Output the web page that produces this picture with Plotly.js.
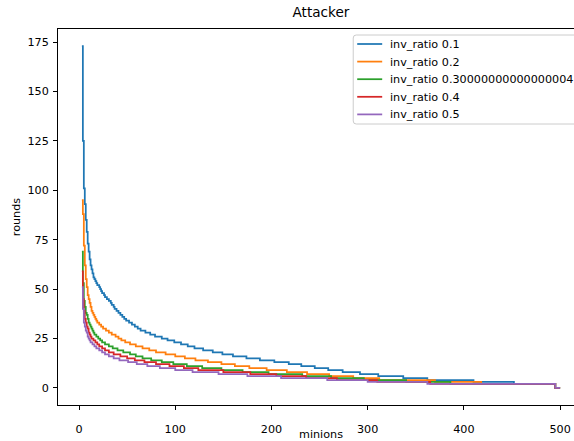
<!DOCTYPE html>
<html>
<head>
<meta charset="utf-8">
<script src="https://cdn.plot.ly/plotly-3.0.1.min.js"></script>
<style>
  html, body { margin: 0; padding: 0; overflow: hidden; background: #fff; }
  #chart { width: 700px; height: 441px; }
</style>
</head>
<body>
<div id="chart"></div>
<script>
// Average rounds needed by the attacker, per number of minions, for each inv_ratio.
// Each series is stored as the minion counts where the round count changes, and the
// round count held from there on.
const seriesNames = [
  "inv_ratio 0.1",
  "inv_ratio 0.2",
  "inv_ratio 0.30000000000000004",
  "inv_ratio 0.4",
  "inv_ratio 0.5"
];

const minions01 = [3,4,5,6,7,8,9,10,11,12,13,14,15,16,17,18,19,21,22,23,24,26,27,29,31,33,34,36,37,39,41,43,45,47,49,52,55,58,61,64,69,74,79,86,92,99,106,113,120,129,139,149,160,174,188,203,218,231,245,259,274,292,311,337,362,410,452,495,500];
const rounds01  = [173,125,101,93,85,79,73,69,65,62,60,58,56,55,54,53,52,51,50,49,48,47,46,45,44,43,42,41,40,39,38,37,36,35,34,33,32,31,30,29,28,27,26,25,24,23,22,21,20,19,18,17,16,15,14,13,12,11,10,9,8,7,6,5,4,3,2,0,0];

const minions02 = [3,4,5,6,7,8,9,10,11,12,13,14,15,16,17,18,19,21,23,25,28,31,34,38,41,44,48,53,59,66,73,80,90,100,110,121,134,148,162,177,195,216,237,260,285,312,370,418,495,500];
const rounds02  = [95,88,72,62,55,51,47,45,43,41,39,38,37,36,35,34,33,32,31,30,29,28,27,26,25,24,23,22,21,20,19,18,17,16,15,14,13,12,11,10,9,8,7,6,5,4,3,2,0,0];

const minions03 = [3,4,5,6,7,8,9,10,11,12,13,14,15,16,18,20,22,24,27,31,35,40,46,53,59,66,75,86,98,112,128,148,170,197,232,262,296,340,386,495,500];
const rounds03  = [69,53,44,41,38,37,35,33,32,31,30,29,28,27,26,25,24,23,22,21,20,19,18,17,16,15,14,13,12,11,10,9,8,7,6,5,4,3,2,0,0];

const minions04 = [3,4,5,6,7,8,9,10,11,12,13,15,17,19,21,24,27,31,36,43,50,58,68,80,94,109,124,150,178,205,236,268,310,365,495,500];
const rounds04  = [59,45,39,35,33,31,30,28,27,26,25,24,23,22,21,20,19,18,17,16,15,14,13,12,11,10,9,8,7,6,5,4,3,2,0,0];

const minions05 = [3,4,5,6,7,8,9,10,11,12,14,16,18,21,24,27,31,36,42,51,60,71,84,100,118,145,175,210,258,300,362,495,500];
const rounds05  = [51,40,33,31,29,28,26,25,24,23,22,21,20,19,18,17,16,15,14,13,12,11,10,9,8,7,6,5,4,3,2,0,0];

const xTicks = [0, 100, 200, 300, 400, 500];
const yTicks = [0, 25, 50, 75, 100, 125, 150, 175];

const colors = ["#1f77b4", "#ff7f0e", "#2ca02c", "#d62728", "#9467bd"];
const xs = [minions01, minions02, minions03, minions04, minions05];
const ys = [rounds01, rounds02, rounds03, rounds04, rounds05];

const traces = seriesNames.map((name, i) => ({
  type: "scatter",
  mode: "lines",
  name: name,
  x: xs[i],
  y: ys[i],
  line: { color: colors[i], width: 1.75, shape: "hv" },
  showlegend: false
}));

const font = { family: "DejaVu Sans, sans-serif", size: 11.2, color: "#000" };

// Figure geometry (pixels)
const W = 700, H = 441;
const M = { l: 57.5, r: 116, t: 29, b: 36 };
const plotW = W - M.l - M.r, plotH = H - M.t - M.b;
const px = v => (v - M.l) / plotW;          // pixel x -> paper x
const py = v => 1 - (v - M.t) / plotH;      // pixel y -> paper y

// Legend box (upper right of the axes), drawn with shapes and text
const legBox = { x0: 353, x1: 577, y0: 35, y1: 124, r: 3 };
const rowY = [44, 61.6, 79.2, 96.8, 114.4];

function roundedRect(b) {
  const x0 = px(b.x0), x1 = px(b.x1), y0 = py(b.y0), y1 = py(b.y1);
  const rx = b.r / plotW, ry = b.r / plotH;
  return `M ${x0 + rx},${y0} L ${x1 - rx},${y0} Q ${x1},${y0} ${x1},${y0 - ry} ` +
         `L ${x1},${y1 + ry} Q ${x1},${y1} ${x1 - rx},${y1} L ${x0 + rx},${y1} ` +
         `Q ${x0},${y1} ${x0},${y1 + ry} L ${x0},${y0 - ry} Q ${x0},${y0} ${x0 + rx},${y0} Z`;
}

const shapes = [{
  type: "path", xref: "paper", yref: "paper",
  path: roundedRect(legBox),
  fillcolor: "rgba(255,255,255,0.8)",
  line: { color: "#cccccc", width: 1 }
}];
const annotations = [];
seriesNames.forEach((name, i) => {
  shapes.push({
    type: "line", xref: "paper", yref: "paper",
    x0: px(357), x1: px(382), y0: py(rowY[i]), y1: py(rowY[i]),
    line: { color: colors[i], width: 1.75 }
  });
  annotations.push({
    xref: "paper", yref: "paper",
    x: px(388), y: py(rowY[i] + 0.5),
    xanchor: "left", yanchor: "middle",
    text: name, showarrow: false, font: font
  });
});

const axisCommon = {
  showgrid: false,
  zeroline: false,
  showline: true,
  linecolor: "#000",
  linewidth: 1,
  mirror: true,
  ticks: "outside",
  ticklen: 4,
  tickwidth: 1,
  tickcolor: "#000",
  tickfont: font,
  automargin: false
};

const layout = {
  width: W,
  height: H,
  margin: M,
  paper_bgcolor: "#fff",
  plot_bgcolor: "#fff",
  font: font,
  title: {
    text: "Attacker",
    font: { family: "DejaVu Sans, sans-serif", size: 13.6, color: "#000" },
    xref: "paper", x: 0.5, xanchor: "center",
    y: 0.972, yanchor: "middle"
  },
  xaxis: Object.assign({}, axisCommon, {
    range: [-21.85, 524.85],
    tickvals: xTicks,
    ticktext: xTicks.map(String),
    ticklabelstandoff: 10,
    title: { text: "minions", font: font, standoff: 0 }
  }),
  yaxis: Object.assign({}, axisCommon, {
    range: [-8.65, 181.65],
    tickvals: yTicks,
    ticktext: yTicks.map(String),
    ticklabelstandoff: 2,
    title: { text: "rounds", font: font, standoff: 4 }
  }),
  showlegend: false,
  shapes: shapes,
  annotations: annotations
};

Plotly.newPlot("chart", traces, layout, { staticPlot: true, displayModeBar: false });
</script>
</body>
</html>
